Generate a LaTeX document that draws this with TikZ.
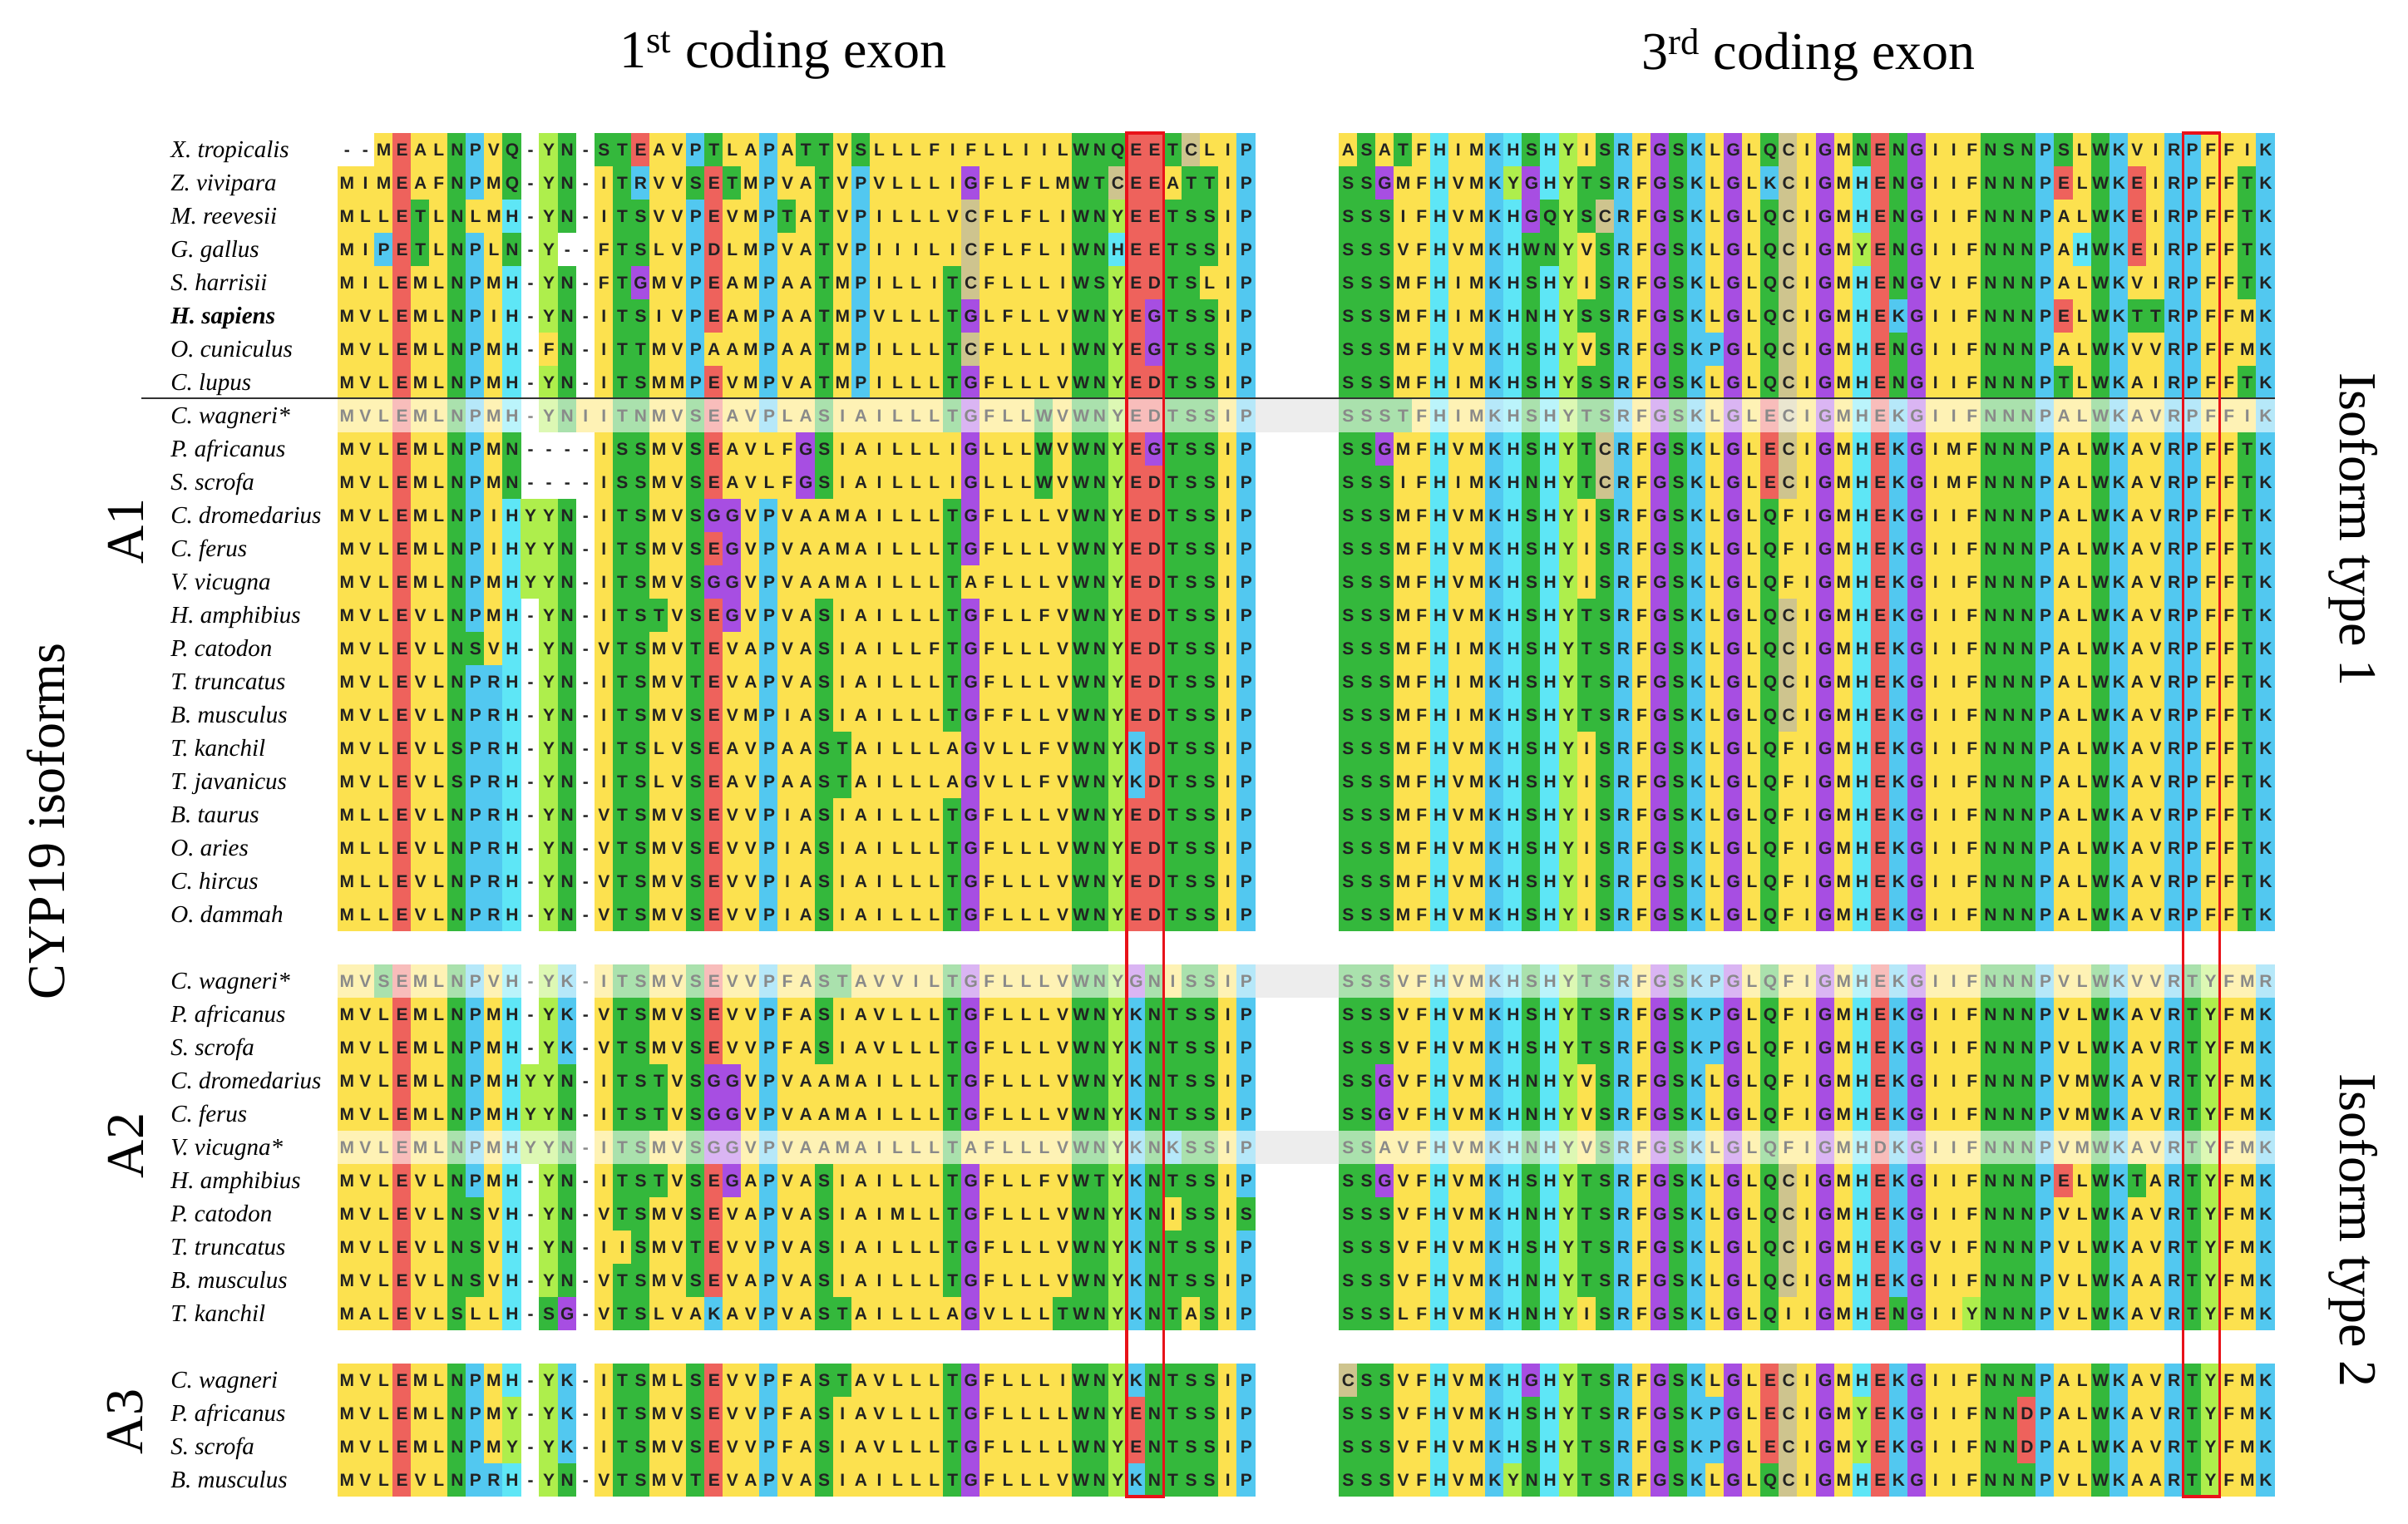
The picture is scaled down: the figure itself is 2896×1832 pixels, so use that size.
\documentclass[tikz,border=0pt]{standalone}
\usepackage{fontspec}
\setmainfont{Liberation Serif}
\newfontfamily\seqfont{Liberation Sans}
\definecolor{cYel}{HTML}{FCE14F}
\definecolor{cRed}{HTML}{EE625C}
\definecolor{cBlu}{HTML}{52C8F0}
\definecolor{cCya}{HTML}{5EE6F6}
\definecolor{cGrn}{HTML}{34B83C}
\definecolor{cLim}{HTML}{AEEE4C}
\definecolor{cPur}{HTML}{A74EE2}
\definecolor{cTan}{HTML}{CEC48E}
\definecolor{seqdark}{HTML}{222222}
\definecolor{seqgray}{HTML}{8A8A8A}
\definecolor{boxred}{HTML}{E8121A}
\newcount\seqi
\newcount\sqstart
\newlength\cwlen
\setlength\cwlen{11.035pt}
\makeatletter
\def\cw{22.07}
% residue classes
\@namedef{cls@A}{Y}\@namedef{cls@V}{Y}\@namedef{cls@I}{Y}\@namedef{cls@L}{Y}\@namedef{cls@M}{Y}\@namedef{cls@F}{Y}
\@namedef{cls@E}{R}\@namedef{cls@D}{R}
\@namedef{cls@K}{B}\@namedef{cls@R}{B}\@namedef{cls@P}{B}
\@namedef{cls@H}{C}
\@namedef{cls@S}{G}\@namedef{cls@T}{G}\@namedef{cls@N}{G}\@namedef{cls@Q}{G}\@namedef{cls@W}{G}
\@namedef{cls@Y}{L}\@namedef{cls@G}{P}\@namedef{cls@C}{T}\@namedef{cls@-}{W}
\def\clr@Y{cYel}\def\clr@R{cRed}\def\clr@B{cBlu}\def\clr@C{cCya}
\def\clr@G{cGrn}\def\clr@L{cLim}\def\clr@P{cPur}\def\clr@T{cTan}
\def\seqrow#1#2#3#4{% x0, y, faded, seq
  \def\sq@x{#1}\def\sq@y{#2}\def\sq@f{#3}\seqi=0 \sqstart=0 \def\sq@cur{W}%
  \sq@loop#4\relax\sq@flush
  \ifnum#3=1 \def\sq@tc{seqgray}\else\def\sq@tc{seqdark}\fi
  \node[seqlet,text=\sq@tc] at (#1,#2+7.5) {\sq@text#4\relax};}
\def\sq@loop#1{\ifx\relax#1\else\sq@cell{#1}\expandafter\sq@loop\fi}
\def\sq@text#1{\ifx\relax#1\else\makebox[\cwlen][c]{#1}\expandafter\sq@text\fi}
\def\sq@cell#1{%
  \edef\sq@new{\csname cls@#1\endcsname}%
  \ifx\sq@new\sq@cur\else\sq@flush\let\sq@cur\sq@new\sqstart=\seqi\fi
  \advance\seqi by 1\relax}
\def\sq@flush{%
  \if W\sq@cur\else
    \pgfmathsetmacro\sq@a{\sq@x+\sqstart*\cw-0.3}%
    \pgfmathsetmacro\sq@b{\sq@x+\seqi*\cw+0.3}%
    \ifnum\sq@f=1
      \edef\sq@col{\csname clr@\sq@cur\endcsname!42!white}%
    \else
      \edef\sq@col{\csname clr@\sq@cur\endcsname}%
    \fi
    \fill[fill=\sq@col] (\sq@a,\sq@y-20) rectangle (\sq@b,\sq@y+20);
  \fi}
\def\arow#1#2#3#4#5#6{%
  \node[namest] (n#1) at (205,#2+9.5) {#4};
  \ifnum#3=1 \fill[black!7] (1509,#2-20) rectangle (1610,#2+20);\fi
  \seqrow{406}{#2}{#3}{#5}%
  \seqrow{1610}{#2}{#3}{#6}}
\makeatother
\begin{document}
\begin{tikzpicture}[x=0.5pt,y=-0.5pt,
  seqlet/.style={anchor=base west,inner sep=0pt,font=\seqfont\bfseries\fontsize{10.5}{10.5}\selectfont},
  namest/.style={anchor=base west,inner sep=0pt,font=\fontsize{14.5}{16}\selectfont\itshape},
  lab/.style={inner sep=0pt,font=\fontsize{32}{36}\selectfont},
  redbox/.style={draw=boxred,line width=1.6pt},
  sepline/.style={draw=black!80,line width=1.1pt}]
\fill[white] (0,0) rectangle (2896,1832);
\useasboundingbox (0,0) rectangle (2896,1832);
% top group
\arow{r0}{180}{0}{X. tropicalis}{--MEALNPVQ-YN-STEAVPTLAPATTVSLLLFIFLLIILWNQEETCLIP}{ASATFHIMKHSHYISRFGSKLGLQCIGMNENGIIFNSNPSLWKVIRPFFIK}
\arow{r1}{220}{0}{Z. vivipara}{MIMEAFNPMQ-YN-ITRVVSETMPVATVPVLLLIGFLFLMWTCEEATTIP}{SSGMFHVMKYGHYTSRFGSKLGLKCIGMHENGIIFNNNPELWKEIRPFFTK}
\arow{r2}{260}{0}{M. reevesii}{MLLETLNLMH-YN-ITSVVPEVMPTATVPILLLVCFLFLIWNYEETSSIP}{SSSIFHVMKHGQYSCRFGSKLGLQCIGMHENGIIFNNNPALWKEIRPFFTK}
\arow{r3}{300}{0}{G. gallus}{MIPETLNPLN-Y--FTSLVPDLMPVATVPIIILICFLFLIWNHEETSSIP}{SSSVFHVMKHWNYVSRFGSKLGLQCIGMYENGIIFNNNPAHWKEIRPFFTK}
\arow{r4}{340}{0}{S. harrisii}{MILEMLNPMH-YN-FTGMVPEAMPAATMPILLITCFLLLIWSYEDTSLIP}{SSSMFHIMKHSHYISRFGSKLGLQCIGMHENGVIFNNNPALWKVIRPFFTK}
\arow{r5}{380}{0}{\textbf{H. sapiens}}{MVLEMLNPIH-YN-ITSIVPEAMPAATMPVLLLTGLFLLVWNYEGTSSIP}{SSSMFHIMKHNHYSSRFGSKLGLQCIGMHEKGIIFNNNPELWKTTRPFFMK}
\arow{r6}{420}{0}{O. cuniculus}{MVLEMLNPMH-FN-ITTMVPAAMPAATMPILLLTCFLLLIWNYEGTSSIP}{SSSMFHVMKHSHYVSRFGSKPGLQCIGMHENGIIFNNNPALWKVVRPFFMK}
\arow{r7}{460}{0}{C. lupus}{MVLEMLNPMH-YN-ITSMMPEVMPVATMPILLLTGFLLLVWNYEDTSSIP}{SSSMFHIMKHSHYSSRFGSKLGLQCIGMHENGIIFNNNPTLWKAIRPFFTK}
% A1
\arow{r8}{500}{1}{C. wagneri*}{MVLEMLNPMH-YNIITNMVSEAVPLASIAILLLTGFLLWVWNYEDTSSIP}{SSSTFHIMKHSHYTSRFGSKLGLECIGMHEKGIIFNNNPALWKAVRPFFIK}
\arow{r9}{540}{0}{P. africanus}{MVLEMLNPMN----ISSMVSEAVLFGSIAILLLIGLLLWVWNYEGTSSIP}{SSGMFHVMKHSHYTCRFGSKLGLECIGMHEKGIMFNNNPALWKAVRPFFTK}
\arow{r10}{580}{0}{S. scrofa}{MVLEMLNPMN----ISSMVSEAVLFGSIAILLLIGLLLWVWNYEDTSSIP}{SSSIFHIMKHNHYTCRFGSKLGLECIGMHEKGIMFNNNPALWKAVRPFFTK}
\arow{r11}{620}{0}{C. dromedarius}{MVLEMLNPIHYYN-ITSMVSGGVPVAAMAILLLTGFLLLVWNYEDTSSIP}{SSSMFHVMKHSHYISRFGSKLGLQFIGMHEKGIIFNNNPALWKAVRPFFTK}
\arow{r12}{660}{0}{C. ferus}{MVLEMLNPIHYYN-ITSMVSEGVPVAAMAILLLTGFLLLVWNYEDTSSIP}{SSSMFHVMKHSHYISRFGSKLGLQFIGMHEKGIIFNNNPALWKAVRPFFTK}
\arow{r13}{700}{0}{V. vicugna}{MVLEMLNPMHYYN-ITSMVSGGVPVAAMAILLLTAFLLLVWNYEDTSSIP}{SSSMFHVMKHSHYISRFGSKLGLQFIGMHEKGIIFNNNPALWKAVRPFFTK}
\arow{r14}{740}{0}{H. amphibius}{MVLEVLNPMH-YN-ITSTVSEGVPVASIAILLLTGFLLFVWNYEDTSSIP}{SSSMFHVMKHSHYTSRFGSKLGLQCIGMHEKGIIFNNNPALWKAVRPFFTK}
\arow{r15}{780}{0}{P. catodon}{MVLEVLNSVH-YN-VTSMVTEVAPVASIAILLFTGFLLLVWNYEDTSSIP}{SSSMFHIMKHSHYTSRFGSKLGLQCIGMHEKGIIFNNNPALWKAVRPFFTK}
\arow{r16}{820}{0}{T. truncatus}{MVLEVLNPRH-YN-ITSMVTEVAPVASIAILLLTGFLLLVWNYEDTSSIP}{SSSMFHIMKHSHYTSRFGSKLGLQCIGMHEKGIIFNNNPALWKAVRPFFTK}
\arow{r17}{860}{0}{B. musculus}{MVLEVLNPRH-YN-ITSMVSEVMPIASIAILLLTGFFLLVWNYEDTSSIP}{SSSMFHIMKHSHYTSRFGSKLGLQCIGMHEKGIIFNNNPALWKAVRPFFTK}
\arow{r18}{900}{0}{T. kanchil}{MVLEVLSPRH-YN-ITSLVSEAVPAASTAILLLAGVLLFVWNYKDTSSIP}{SSSMFHVMKHSHYISRFGSKLGLQFIGMHEKGIIFNNNPALWKAVRPFFTK}
\arow{r19}{940}{0}{T. javanicus}{MVLEVLSPRH-YN-ITSLVSEAVPAASTAILLLAGVLLFVWNYKDTSSIP}{SSSMFHVMKHSHYISRFGSKLGLQFIGMHEKGIIFNNNPALWKAVRPFFTK}
\arow{r20}{980}{0}{B. taurus}{MLLEVLNPRH-YN-VTSMVSEVVPIASIAILLLTGFLLLVWNYEDTSSIP}{SSSMFHVMKHSHYISRFGSKLGLQFIGMHEKGIIFNNNPALWKAVRPFFTK}
\arow{r21}{1020}{0}{O. aries}{MLLEVLNPRH-YN-VTSMVSEVVPIASIAILLLTGFLLLVWNYEDTSSIP}{SSSMFHVMKHSHYISRFGSKLGLQFIGMHEKGIIFNNNPALWKAVRPFFTK}
\arow{r22}{1060}{0}{C. hircus}{MLLEVLNPRH-YN-VTSMVSEVVPIASIAILLLTGFLLLVWNYEDTSSIP}{SSSMFHVMKHSHYISRFGSKLGLQFIGMHEKGIIFNNNPALWKAVRPFFTK}
\arow{r23}{1100}{0}{O. dammah}{MLLEVLNPRH-YN-VTSMVSEVVPIASIAILLLTGFLLLVWNYEDTSSIP}{SSSMFHVMKHSHYISRFGSKLGLQFIGMHEKGIIFNNNPALWKAVRPFFTK}
% A2
\arow{r25}{1180}{1}{C. wagneri*}{MVSEMLNPVH-YK-ITSMVSEVVPFASTAVVILTGFLLLVWNYGNISSIP}{SSSVFHVMKHSHYTSRFGSKPGLQFIGMHEKGIIFNNNPVLWKVVRTYFMR}
\arow{r26}{1220}{0}{P. africanus}{MVLEMLNPMH-YK-VTSMVSEVVPFASIAVLLLTGFLLLVWNYKNTSSIP}{SSSVFHVMKHSHYTSRFGSKPGLQFIGMHEKGIIFNNNPVLWKAVRTYFMK}
\arow{r27}{1260}{0}{S. scrofa}{MVLEMLNPMH-YK-VTSMVSEVVPFASIAVLLLTGFLLLVWNYKNTSSIP}{SSSVFHVMKHSHYTSRFGSKPGLQFIGMHEKGIIFNNNPVLWKAVRTYFMK}
\arow{r28}{1300}{0}{C. dromedarius}{MVLEMLNPMHYYN-ITSTVSGGVPVAAMAILLLTGFLLLVWNYKNTSSIP}{SSGVFHVMKHNHYVSRFGSKLGLQFIGMHEKGIIFNNNPVMWKAVRTYFMK}
\arow{r29}{1340}{0}{C. ferus}{MVLEMLNPMHYYN-ITSTVSGGVPVAAMAILLLTGFLLLVWNYKNTSSIP}{SSGVFHVMKHNHYVSRFGSKLGLQFIGMHEKGIIFNNNPVMWKAVRTYFMK}
\arow{r30}{1380}{1}{V. vicugna*}{MVLEMLNPMHYYN-ITSMVSGGVPVAAMAILLLTAFLLLVWNYKNKSSIP}{SSAVFHVMKHNHYVSRFGSKLGLQFIGMHDKGIIFNNNPVMWKAVRTYFMK}
\arow{r31}{1420}{0}{H. amphibius}{MVLEVLNPMH-YN-ITSTVSEGAPVASIAILLLTGFLLFVWTYKNTSSIP}{SSGVFHVMKHSHYTSRFGSKLGLQCIGMHEKGIIFNNNPELWKTARTYFMK}
\arow{r32}{1460}{0}{P. catodon}{MVLEVLNSVH-YN-VTSMVSEVAPVASIAIMLLTGFLLLVWNYKNISSIS}{SSSVFHVMKHNHYTSRFGSKLGLQCIGMHEKGIIFNNNPVLWKAVRTYFMK}
\arow{r33}{1500}{0}{T. truncatus}{MVLEVLNSVH-YN-IISMVTEVVPVASIAILLLTGFLLLVWNYKNTSSIP}{SSSVFHVMKHSHYTSRFGSKLGLQCIGMHEKGVIFNNNPVLWKAVRTYFMK}
\arow{r34}{1540}{0}{B. musculus}{MVLEVLNSVH-YN-VTSMVSEVAPVASIAILLLTGFLLLVWNYKNTSSIP}{SSSVFHVMKHNHYTSRFGSKLGLQCIGMHEKGIIFNNNPVLWKAARTYFMK}
\arow{r35}{1580}{0}{T. kanchil}{MALEVLSLLH-SG-VTSLVAKAVPVASTAILLLAGVLLLTWNYKNTASIP}{SSSLFHVMKHNHYISRFGSKLGLQIIGMHENGIIYNNNPVLWKAVRTYFMK}
% A3
\arow{r37}{1660}{0}{C. wagneri}{MVLEMLNPMH-YK-ITSMLSEVVPFASTAVLLLTGFLLLIWNYKNTSSIP}{CSSVFHVMKHGHYTSRFGSKLGLECIGMHEKGIIFNNNPALWKAVRTYFMK}
\arow{r38}{1700}{0}{P. africanus}{MVLEMLNPMY-YK-ITSMVSEVVPFASIAVLLLTGFLLLLWNYENTSSIP}{SSSVFHVMKHSHYTSRFGSKPGLECIGMYEKGIIFNNDPALWKAVRTYFMK}
\arow{r39}{1740}{0}{S. scrofa}{MVLEMLNPMY-YK-ITSMVSEVVPFASIAVLLLTGFLLLLWNYENTSSIP}{SSSVFHVMKHSHYTSRFGSKPGLECIGMYEKGIIFNNDPALWKAVRTYFMK}
\arow{r40}{1780}{0}{B. musculus}{MVLEVLNPRH-YN-VTSMVTEVAPVASIAILLLTGFLLLVWNYKNTSSIP}{SSSVFHVMKYNHYTSRFGSKLGLQCIGMHEKGIIFNNNPVLWKAARTYFMK}
% separator line
\coordinate (hlA) at (170,479);
\coordinate (hlB) at (2736,479);
\draw[sepline] (hlA) -- (hlB);
% red boxes
\coordinate (rb1a) at (1355.0,160);
\coordinate (rb1b) at (1399.2,1800);
\coordinate (rb2a) at (2625.2,160);
\coordinate (rb2b) at (2669.4,1800);
\draw[redbox] (rb1a) rectangle (rb1b);
\draw[redbox] (rb2a) rectangle (rb2b);
% labels
\node[lab] (t1) at (942,66) {1\textsuperscript{st} coding exon};
\node[lab] (t3) at (2175,66) {3\textsuperscript{rd} coding exon};
\node[lab,rotate=90] (cyp) at (55,988) {CYP19 isoforms};
\node[lab,rotate=90] (la1) at (151,639) {A1};
\node[lab,rotate=90] (la2) at (151,1378) {A2};
\node[lab,rotate=90] (la3) at (151,1710) {A3};
\node[lab,rotate=-90] (it1) at (2830,637) {Isoform type 1};
\node[lab,rotate=-90] (it2) at (2830,1480) {Isoform type 2};
\end{tikzpicture}
\end{document}
